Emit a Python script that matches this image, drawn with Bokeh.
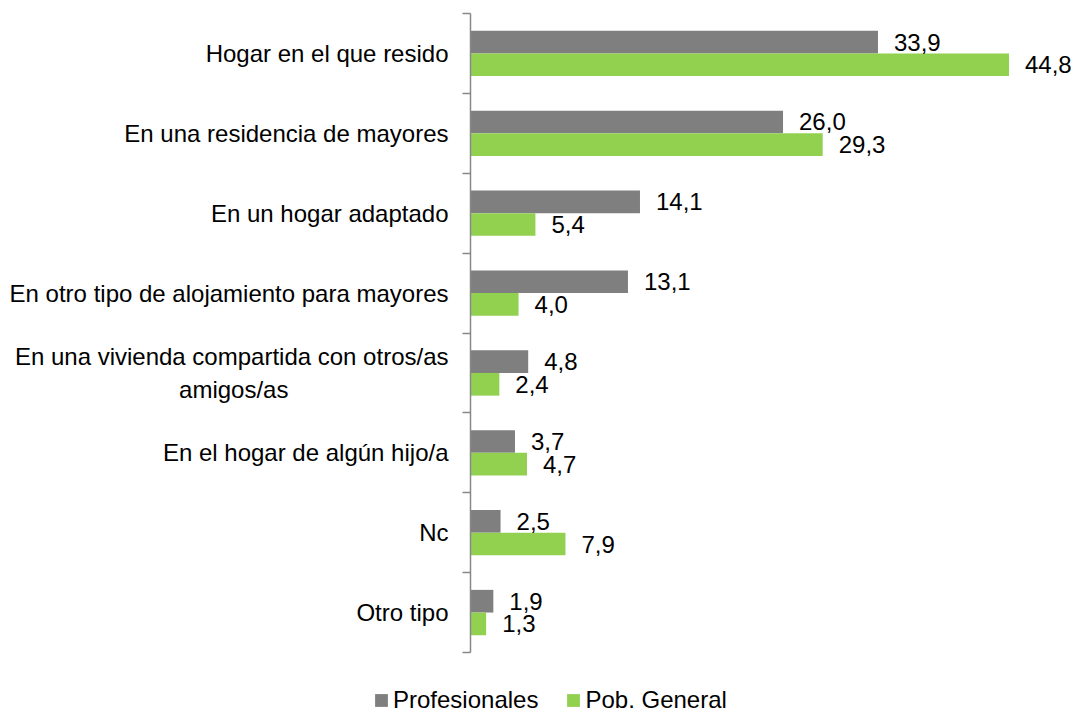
from bokeh.plotting import figure
from bokeh.models import Range1d, FixedTicker, Legend, LegendItem, ColumnDataSource, LinearAxis
from bokeh.core.properties import value
from bokeh.embed import file_html
from bokeh.resources import INLINE

categories = [
    "Hogar en el que resido",
    "En una residencia de mayores",
    "En un hogar adaptado",
    "En otro tipo de alojamiento para mayores",
    "En una vivienda compartida con otros/as\namigos/as" + "\u00a0" * 24,
    "En el hogar de algún hijo/a",
    "Nc",
    "Otro tipo",
]
profesionales = [33.9, 26.0, 14.1, 13.1, 4.8, 3.7, 2.5, 1.9]
pob_general = [44.8, 29.3, 5.4, 4.0, 2.4, 4.7, 7.9, 1.3]
series_names = ["Profesionales", "Pob. General"]
colors = ["#7f7f7f", "#92d050"]

n = len(categories)
centers = [n - i - 0.5 for i in range(n)]
bar_h = 0.284

FONT = "Liberation Sans"
FS = "24px"

W, H = 1071, 714
# layout in pixels: category block from y=13 to y=652, value zero at x=470
px_x = 12.02
px_y = (652 - 13) / n
x_start = -470 / px_x
y_start = -(H - 652) / px_y

p = figure(width=W, height=H, output_backend="svg", toolbar_location=None,
           x_range=Range1d(x_start, x_start + W / px_x),
           y_range=Range1d(y_start, y_start + H / px_y),
           x_axis_location=None, y_axis_location=None,
           min_border_left=0, min_border_right=0, min_border_top=0, min_border_bottom=0)
p.outline_line_color = None
p.xgrid.grid_line_color = None
p.ygrid.grid_line_color = None

def fmt(v):
    return f"{v:.1f}".replace(".", ",")

src_a = ColumnDataSource(dict(y=[c + bar_h / 2 for c in centers], v=profesionales,
                              lab=[fmt(v) for v in profesionales]))
src_b = ColumnDataSource(dict(y=[c - bar_h / 2 for c in centers], v=pob_general,
                              lab=[fmt(v) for v in pob_general]))

ra = p.hbar(y="y", right="v", left=0, height=bar_h, source=src_a, color=colors[0], line_color=None)
rb = p.hbar(y="y", right="v", left=0, height=bar_h, source=src_b, color=colors[1], line_color=None)

for src in (src_a, src_b):
    p.text(x="v", y="y", text="lab", source=src, x_offset=16, text_baseline="middle",
           text_align="left", text_font=value(FONT), text_font_size=FS, text_color="#000000")

ax = LinearAxis(fixed_location=0, bounds=(0, n))
ax.ticker = FixedTicker(ticks=centers, minor_ticks=list(range(n + 1)))
ax.major_label_overrides = {c: lab for c, lab in zip(centers, categories)}
ax.major_tick_line_color = None
ax.major_tick_out = 0
ax.major_tick_in = 0
ax.minor_tick_out = 8
ax.minor_tick_in = 0
ax.minor_tick_line_color = "#888888"
ax.minor_tick_line_width = 1.5
ax.axis_line_color = "#888888"
ax.axis_line_width = 1.5
ax.major_label_standoff = 14
ax.major_label_text_font = FONT
ax.major_label_text_font_size = FS
ax.major_label_text_color = "#000000"
p.add_layout(ax, "left")

legend = Legend(items=[LegendItem(label=series_names[0], renderers=[ra]),
                       LegendItem(label=series_names[1], renderers=[rb])],
                orientation="horizontal", location=(373, 0),
                padding=0, margin=0, spacing=27, label_standoff=4,
                glyph_width=16, glyph_height=16, label_height=24,
                label_text_font=FONT, label_text_font_size=FS,
                label_text_color="#000000", border_line_color=None,
                background_fill_alpha=0)
p.add_layout(legend, "center")

open("out.html", "w").write(file_html(p, INLINE))
